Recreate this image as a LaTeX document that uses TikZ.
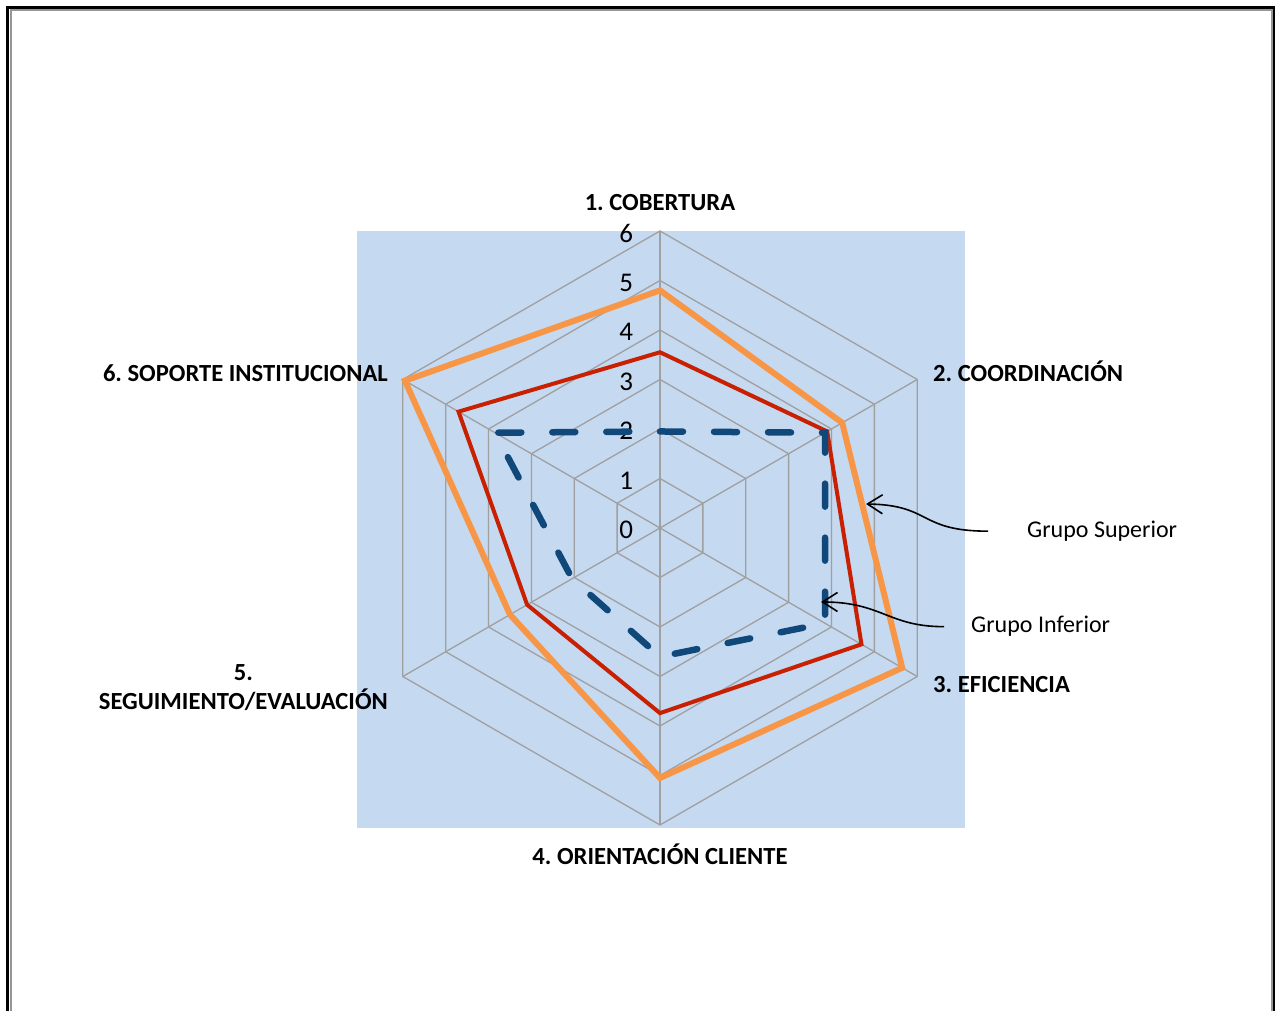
\documentclass[tikz,border=0pt]{standalone}
\usepackage{fontspec}
\setmainfont{Carlito}
\usepackage{tikz}
\usetikzlibrary{arrows.meta, positioning}
\usepackage{xcolor}
\frenchspacing
\definecolor{plotBlue}{RGB}{197,217,241}
\definecolor{gridGray}{RGB}{160,160,160}
\definecolor{frameGray}{RGB}{150,150,150}
\definecolor{supOrange}{RGB}{247,150,70}
\definecolor{avgRed}{RGB}{200,32,0}
\definecolor{infBlue}{RGB}{16,72,122}
\tikzset{%
	axis label/.style={
		font=\bfseries\fontsize{24.6}{29}\selectfont,
		inner sep=0pt,
		align=center
	},
	tick label/.style={
		font=\fontsize{27}{30}\selectfont,
		inner sep=0pt,
		anchor=east,
		yshift=-2pt
	},
	group label/.style={
		font=\fontsize{24}{28}\selectfont,
		inner sep=0pt
	},
	grid line/.style={
		draw=gridGray,
		line width=1.3pt
	},
}

\begin{document}
\begin{tikzpicture}[x=1pt, y=1pt,
		superior/.style={draw=supOrange, line width=6pt},
		promedio/.style={draw=avgRed, line width=4pt},
		inferior/.style={draw=infBlue, line width=6.5pt, line cap=round, dash pattern=on 23pt off 31pt},
		callout/.style={draw=black, line width=1.6pt, -{Straight Barb[length=15pt,width=19pt]}}
		]
		\useasboundingbox (0,0) rectangle (1275,1011);
		% page frame
		\draw[line width=3pt] (7.5,0) |- (1273.8,1003.5) -- (1273.8,0);
		\draw[draw=frameGray, line width=2pt] (10.5,0) |- (1271.5,1000.5) -- (1271.5,0);
		% plot area
		\fill[plotBlue] (357,183) rectangle (965,780);
		\begin{scope}[shift={(660pt,483pt)}, x=49.5pt, y=49.5pt]
			\foreach \r in {1,...,6}
				\draw[grid line] (90:\r) -- (30:\r) -- (-30:\r) -- (-90:\r) -- (-150:\r) -- (150:\r) -- cycle;
			\foreach \a in {90,30,-30,-90,-150,150}
				\draw[grid line] (0,0) -- (\a:6);
			\foreach \r in {0,...,6}
				\node[tick label] (tick\r) at (-0.54,\r) {\r};
			% series
			\draw[superior] (90:4.8) -- (30:4.25) -- (-30:5.65) -- (-90:5.05) -- (-150:3.5) -- (150:5.95) -- cycle;
			\draw[promedio] (90:3.55) -- (30:3.9) -- (-30:4.7) -- (-90:3.74) -- (-150:3.1) -- (150:4.7) -- cycle;
			\draw[inferior] (90:1.95) -- (30:3.85) -- (-30:3.85) -- (-90:2.6) -- (-150:2.05) -- (150:3.85) -- cycle;
		\end{scope}
		% axis labels
		\node[axis label, anchor=base] (cobertura) at (660,800.5) {1. COBERTURA};
		\node[axis label, anchor=base west] (coordinacion) at (933,629.5) {2. COORDINACIÓN};
		\node[axis label, anchor=base west] (eficiencia) at (933,318.5) {3. EFICIENCIA};
		\node[axis label, anchor=base] (orientacion) at (660,146.5) {4. ORIENTACIÓN CLIENTE};
		\node[axis label, anchor=east] (seguimiento) at (388,323.5) {5.\\SEGUIMIENTO/EVALUACIÓN};
		\node[axis label, anchor=base east] (soporte) at (388,629.5) {6. SOPORTE INSTITUCIONAL};
		% group callouts
		\node[group label, anchor=base west] (grupoSup) at (1027,473.5) {Grupo Superior};
		\node[group label, anchor=base west] (grupoInf) at (971,378) {Grupo Inferior};
		\coordinate[left=39pt of grupoSup.west] (supTail);
		\coordinate[left=27pt of grupoInf.west] (infTail);
		\coordinate (supTip) at (866,507);
		\coordinate (infTip) at (821,409);
		\draw[callout] (supTail) .. controls +(-70,0) and +(66,-1) .. (supTip);
		\draw[callout] (infTail) .. controls +(-56,0) and +(61,0) .. (infTip);
	\end{tikzpicture}
\end{document}
